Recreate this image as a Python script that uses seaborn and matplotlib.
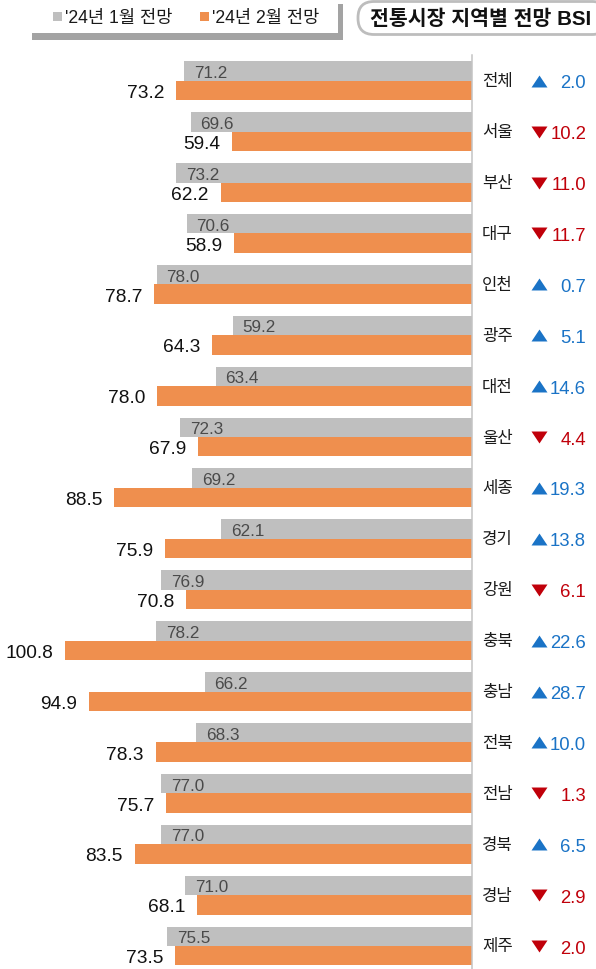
import matplotlib
matplotlib.use("Agg")
import matplotlib.pyplot as plt
import seaborn as sns
import pandas as pd
from matplotlib.patches import Rectangle, FancyBboxPatch
from matplotlib.path import Path
from matplotlib import transforms

# ---- data -------------------------------------------------------------
regions = ["전체", "서울", "부산", "대구", "인천", "광주", "대전", "울산", "세종",
           "경기", "강원", "충북", "충남", "전북", "전남", "경북", "경남", "제주"]
bsi_jan = [71.2, 69.6, 73.2, 70.6, 78.0, 59.2, 63.4, 72.3, 69.2,
           62.1, 76.9, 78.2, 66.2, 68.3, 77.0, 77.0, 71.0, 75.5]
bsi_feb = [73.2, 59.4, 62.2, 58.9, 78.7, 64.3, 78.0, 67.9, 88.5,
           75.9, 70.8, 100.8, 94.9, 78.3, 75.7, 83.5, 68.1, 73.5]
series = ["'24년 1월 전망", "'24년 2월 전망"]
title = "전통시장 지역별 전망 BSI"

bar_colors = ["#bfbfbf", "#ef8f4e"]
up_color = "#1a73c6"
down_color = "#c0000a"

df = pd.DataFrame({
    "지역": regions * 2,
    "전망": [series[0]] * len(regions) + [series[1]] * len(regions),
    "BSI": bsi_jan + bsi_feb,
})

# ---- figure -----------------------------------------------------------
sns.set_style("white")
plt.rcParams["font.family"] = ["Liberation Sans", "Noto Sans CJK KR"]

W, H = 596, 970
fig = plt.figure(figsize=(W / 100, H / 100), dpi=100)

x_zero_px = 472          # where BSI = 0 sits
px_per_unit = 4.04
top_px = 56
row0_px, row_step_px = 81.7, 50.9

ax = fig.add_axes([0, 0, x_zero_px / W, (H - top_px) / H])
sns.barplot(data=df, y="지역", x="BSI", hue="전망", hue_order=series,
            palette=bar_colors, orient="h", width=0.766, dodge=True,
            saturation=1, linewidth=0, errorbar=None, legend=False, ax=ax)

ax.set_xlim(x_zero_px / px_per_unit, 0)
ax.set_ylim((H - row0_px) / row_step_px, -(row0_px - top_px) / row_step_px)
ax.set_xticks([])
ax.set_yticks([])
ax.set_xlabel("")
ax.set_ylabel("")
for side in ["left", "top", "bottom"]:
    ax.spines[side].set_visible(False)
ax.spines["right"].set_color("#c4c4c4")
ax.spines["right"].set_linewidth(1.1)

# value labels on the bars
for k, (cont, vals) in enumerate(zip(ax.containers, [bsi_jan, bsi_feb])):
    for patch, v in zip(cont, vals):
        yc = patch.get_y() + patch.get_height() / 2
        if k == 0:
            ax.annotate(f"{v:.1f}", xy=(v, yc), xytext=(7.0, 0),
                        textcoords="offset points", ha="left",
                        va="center_baseline", fontsize=12.3, color="#4a4a4a")
        else:
            ax.annotate(f"{v:.1f}", xy=(v, yc), xytext=(-8.5, 0),
                        textcoords="offset points", ha="right",
                        va="center_baseline", fontsize=13.8, color="#111111")

# overlay in pixel coordinates for the decorations
ov = fig.add_axes([0, 0, 1, 1], zorder=-1)
ov.set_xlim(0, W)
ov.set_ylim(H, 0)
ov.axis("off")

# right-hand column: region name, arrow, change
trans = transforms.blended_transform_factory(ov.transData, ax.transData)
up_marker = Path([(-8, -6), (8, -6), (0, 6), (-8, -6)])
down_marker = Path([(-8, 6), (8, 6), (0, -6), (-8, 6)])
for i, (name, a, b) in enumerate(zip(regions, bsi_jan, bsi_feb)):
    diff = round(b - a, 1)
    color = up_color if diff >= 0 else down_color
    ax.text(482, i, name, transform=trans, ha="left", va="center",
            fontsize=12, color="#1a1a1a", family=["Noto Sans CJK KR"])
    ax.plot([539], [i], transform=trans, marker=up_marker if diff >= 0 else down_marker,
            markersize=11.5, color=color, markeredgewidth=0, linestyle="",
            clip_on=False)
    ax.text(586, i, f"{abs(diff):.1f}", transform=trans, ha="right",
            va="center_baseline", fontsize=13.3, color=color)

# dotted guide on the far left
ov.plot([2.5, 2.5], [57, H], linestyle=(0, (1, 1)), linewidth=2.0, color="#8f9cb6")

# legend box with drop shadow
ov.add_patch(Rectangle((32, 5), 311, 36, facecolor="#a3a3a3", edgecolor="none"))
ov.add_patch(Rectangle((27, 0), 311, 34, facecolor="white", edgecolor="none"))
ov.add_patch(Rectangle((53, 13), 9, 9, facecolor=bar_colors[0], edgecolor="none"))
ov.add_patch(Rectangle((200, 13), 9, 9, facecolor=bar_colors[1], edgecolor="none"))
ov.text(65, 18.5, series[0], ha="left", va="center", fontsize=12.7, color="#1a1a1a")
ov.text(212, 18.5, series[1], ha="left", va="center", fontsize=12.7, color="#1a1a1a")

# title pill
ov.add_patch(FancyBboxPatch((358, 2.5), 250, 33,
                            boxstyle="round,pad=0,rounding_size=16",
                            facecolor="white", edgecolor="#bdbdbd", linewidth=2.0))
ov.text(591, 19, title, ha="right", va="center", fontsize=14.8,
        fontweight="bold", color="#111111")

fig.savefig("out.png", dpi=100)
